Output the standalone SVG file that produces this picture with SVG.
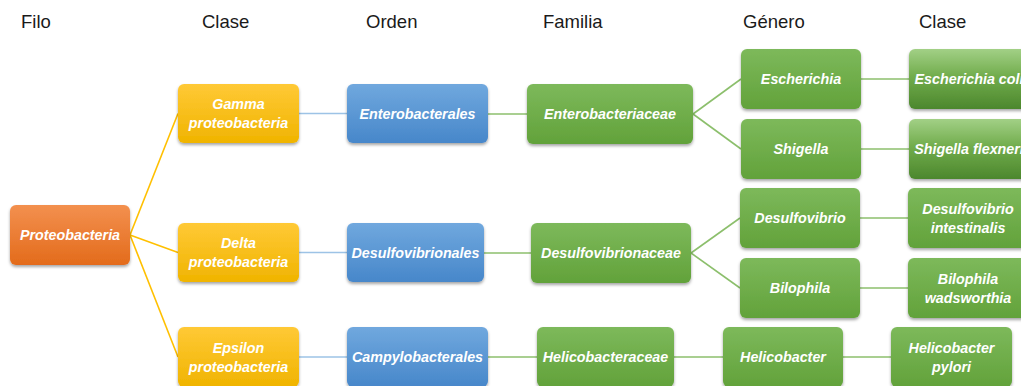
<svg xmlns="http://www.w3.org/2000/svg" width="1021" height="386" viewBox="0 0 1021 386">
  <defs>
    <linearGradient id="gOrange" x1="0" y1="0" x2="0" y2="1">
      <stop offset="0" stop-color="#F3904F"/>
      <stop offset="1" stop-color="#E36B1B"/>
    </linearGradient>
    <linearGradient id="gYellow" x1="0" y1="0" x2="0" y2="1">
      <stop offset="0" stop-color="#FFC936"/>
      <stop offset="1" stop-color="#F0B400"/>
    </linearGradient>
    <linearGradient id="gBlue" x1="0" y1="0" x2="0" y2="1">
      <stop offset="0" stop-color="#70A8DE"/>
      <stop offset="1" stop-color="#4787CA"/>
    </linearGradient>
    <linearGradient id="gGreen" x1="0" y1="0" x2="0" y2="1">
      <stop offset="0" stop-color="#7DB95B"/>
      <stop offset="1" stop-color="#62A23A"/>
    </linearGradient>
    <linearGradient id="gGreenAlt" x1="0" y1="0" x2="0" y2="1">
      <stop offset="0" stop-color="#A2D086"/>
      <stop offset="0.45" stop-color="#72AD4D"/>
      <stop offset="1" stop-color="#4C872D"/>
    </linearGradient>
    <filter id="sh" x="-10%" y="-10%" width="120%" height="130%">
      <feDropShadow dx="0" dy="2" stdDeviation="1.5" flood-color="#000" flood-opacity="0.35"/>
    </filter>
  </defs>
  <style>
    .title { font-family: "Liberation Sans", Arial, sans-serif; font-size: 18.5px; fill: #1a1a1a; }
    .box { filter: url(#sh); }
    .orange { fill: url(#gOrange); }
    .yellow { fill: url(#gYellow); }
    .blue { fill: url(#gBlue); }
    .green { fill: url(#gGreen); }
    .green2 { fill: url(#gGreenAlt); }
    .lbl { font-family: "Liberation Sans", Arial, sans-serif; font-size: 14.3px; font-weight: bold; font-style: italic; fill: #ffffff; text-anchor: middle; }
    .cy { stroke: #FFC000; stroke-width: 1.6; fill: none; }
    .cb { stroke: #9DC3E6; stroke-width: 1.6; fill: none; }
    .cg { stroke: #8CBF6C; stroke-width: 1.6; fill: none; }
  </style>

  <g id="titles">
    <text class="title" x="21" y="28">Filo</text>
    <text class="title" x="202" y="28">Clase</text>
    <text class="title" x="366" y="28">Orden</text>
    <text class="title" x="543" y="28">Familia</text>
    <text class="title" x="743" y="28">Género</text>
    <text class="title" x="919" y="28">Clase</text>
  </g>

  <g id="connectors">
    <line class="cy" x1="130" y1="235" x2="178" y2="113.5"/>
    <line class="cy" x1="130" y1="235" x2="178" y2="252.5"/>
    <line class="cy" x1="130" y1="235" x2="178" y2="357"/>
    <line class="cb" x1="299" y1="113.5" x2="347" y2="113.5"/>
    <line class="cb" x1="299" y1="252.5" x2="347" y2="252.5"/>
    <line class="cb" x1="299" y1="357" x2="347" y2="357"/>
    <line class="cg" x1="488" y1="114" x2="527" y2="114"/>
    <line class="cg" x1="484" y1="253" x2="531" y2="253"/>
    <line class="cg" x1="488" y1="357" x2="537" y2="357"/>
    <line class="cg" x1="693" y1="114" x2="741" y2="79"/>
    <line class="cg" x1="693" y1="114" x2="741" y2="149"/>
    <line class="cg" x1="691" y1="253" x2="740" y2="218"/>
    <line class="cg" x1="691" y1="253" x2="740" y2="288"/>
    <line class="cg" x1="674" y1="357" x2="723" y2="357"/>
    <line class="cg" x1="861" y1="79" x2="909" y2="79"/>
    <line class="cg" x1="861" y1="149" x2="909" y2="149"/>
    <line class="cg" x1="860" y1="218" x2="908" y2="218"/>
    <line class="cg" x1="860" y1="288" x2="908" y2="288"/>
    <line class="cg" x1="843" y1="357" x2="891" y2="357"/>
  </g>

  <g id="proteobacteria">
    <rect class="box orange" x="10" y="205" width="120" height="60" rx="6"/>
    <text class="lbl" x="70" y="240">Proteobacteria</text>
  </g>
  <g id="gamma">
    <rect class="box yellow" x="178" y="84" width="121" height="59" rx="6"/>
    <text class="lbl" x="238.5" y="109">Gamma</text>
    <text class="lbl" x="238.5" y="128">proteobacteria</text>
  </g>
  <g id="delta">
    <rect class="box yellow" x="178" y="223" width="121" height="59" rx="6"/>
    <text class="lbl" x="238.5" y="248">Delta</text>
    <text class="lbl" x="238.5" y="267">proteobacteria</text>
  </g>
  <g id="epsilon">
    <rect class="box yellow" x="178" y="327" width="121" height="60" rx="6"/>
    <text class="lbl" x="238.5" y="352.5">Epsilon</text>
    <text class="lbl" x="238.5" y="371.5">proteobacteria</text>
  </g>
  <g id="enterobacterales">
    <rect class="box blue" x="347" y="84" width="141" height="59" rx="6"/>
    <text class="lbl" x="417.5" y="118.5">Enterobacterales</text>
  </g>
  <g id="desulfovibrionales">
    <rect class="box blue" x="347" y="223" width="137" height="59" rx="6"/>
    <text class="lbl" x="415.5" y="257.5">Desulfovibrionales</text>
  </g>
  <g id="campylobacterales">
    <rect class="box blue" x="347" y="327" width="141" height="60" rx="6"/>
    <text class="lbl" x="417.5" y="362">Campylobacterales</text>
  </g>
  <g id="enterobacteriaceae">
    <rect class="box green" x="527" y="84" width="166" height="60" rx="6"/>
    <text class="lbl" x="610" y="119">Enterobacteriaceae</text>
  </g>
  <g id="desulfovibrionaceae">
    <rect class="box green" x="531" y="223" width="160" height="60" rx="6"/>
    <text class="lbl" x="611" y="258">Desulfovibrionaceae</text>
  </g>
  <g id="helicobacteraceae">
    <rect class="box green" x="537" y="327" width="137" height="60" rx="6"/>
    <text class="lbl" x="605.5" y="362">Helicobacteraceae</text>
  </g>
  <g id="escherichia">
    <rect class="box green" x="741" y="49" width="120" height="60" rx="6"/>
    <text class="lbl" x="801" y="84">Escherichia</text>
  </g>
  <g id="shigella">
    <rect class="box green" x="741" y="119" width="120" height="60" rx="6"/>
    <text class="lbl" x="801" y="154">Shigella</text>
  </g>
  <g id="desulfovibrio">
    <rect class="box green" x="740" y="188" width="120" height="60" rx="6"/>
    <text class="lbl" x="800" y="223">Desulfovibrio</text>
  </g>
  <g id="bilophila">
    <rect class="box green" x="740" y="258" width="120" height="60" rx="6"/>
    <text class="lbl" x="800" y="293">Bilophila</text>
  </g>
  <g id="helicobacter">
    <rect class="box green" x="723" y="327" width="120" height="60" rx="6"/>
    <text class="lbl" x="783" y="362">Helicobacter</text>
  </g>
  <g id="escherichia-coli">
    <rect class="box green2" x="909" y="49" width="120" height="60" rx="6"/>
    <text class="lbl" x="969" y="84">Escherichia coli</text>
  </g>
  <g id="shigella-flexneri">
    <rect class="box green2" x="909" y="119" width="120" height="60" rx="6"/>
    <text class="lbl" x="969" y="154">Shigella flexneri</text>
  </g>
  <g id="desulfovibrio-intestinalis">
    <rect class="box green" x="908" y="188" width="120" height="60" rx="6"/>
    <text class="lbl" x="968" y="213.5">Desulfovibrio</text>
    <text class="lbl" x="968" y="232.5">intestinalis</text>
  </g>
  <g id="bilophila-wadsworthia">
    <rect class="box green" x="908" y="258" width="120" height="60" rx="6"/>
    <text class="lbl" x="968" y="283.5">Bilophila</text>
    <text class="lbl" x="968" y="302.5">wadsworthia</text>
  </g>
  <g id="helicobacter-pylori">
    <rect class="box green" x="891" y="327" width="121" height="60" rx="6"/>
    <text class="lbl" x="951.5" y="352.5">Helicobacter</text>
    <text class="lbl" x="951.5" y="371.5">pylori</text>
  </g>
</svg>
